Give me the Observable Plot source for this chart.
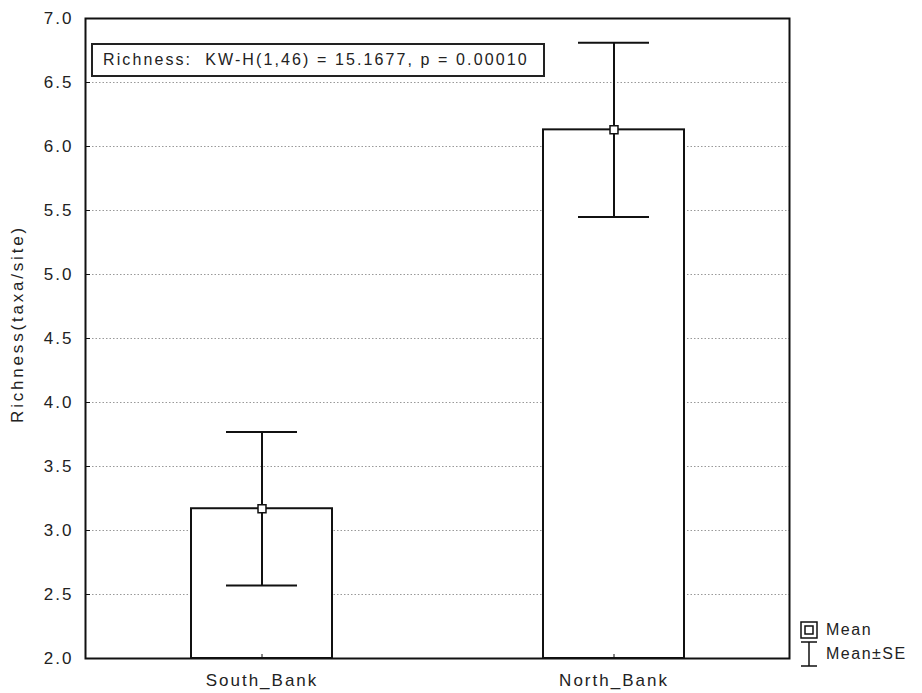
<!DOCTYPE html>
<html>
<head>
<meta charset="utf-8">
<script src="https://cdn.jsdelivr.net/npm/d3@7"></script>
<script src="https://cdn.jsdelivr.net/npm/@observablehq/plot@0.6"></script>
<style>
  html, body { margin: 0; padding: 0; background: #fff; }
  #wrap { position: relative; width: 922px; height: 693px; }
  #wrap svg text { letter-spacing: 2px; }
  #note {
    position: absolute; left: 91px; top: 43px; width: 440px; height: 30px;
    border: 2px solid #222; background: #fff;
    font: 16px "Liberation Sans", Arial, sans-serif; letter-spacing: 2.1px; color: #222;
    line-height: 30px; padding-left: 10px; box-sizing: content-box; white-space: pre;
  }
  #legend {
    position: absolute; left: 800px; top: 618px;
    font: 16px "Liberation Sans", Arial, sans-serif; letter-spacing: 1.5px; color: #222;
  }
  #legend div { height: 24px; display: flex; align-items: center; }
  #legend svg { margin-right: 8px; }
</style>
</head>
<body>
<div id="wrap"></div>
<script>
const categories = ["South_Bank", "North_Bank"];
const means = [3.17, 6.13];
const seValues = [0.60, 0.68];
const yTicks = [2.0, 2.5, 3.0, 3.5, 4.0, 4.5, 5.0, 5.5, 6.0, 6.5, 7.0];
const yLabel = "Richness(taxa/site)";
const noteText = "Richness:  KW-H(1,46) = 15.1677, p = 0.00010";
const legendLabels = ["Mean", "Mean±SE"];

const data = categories.map((c, i) => ({
  group: c, mean: means[i], lo: means[i] - seValues[i], hi: means[i] + seValues[i]
}));

const chart = Plot.plot({
  width: 922, height: 693,
  marginLeft: 85, marginRight: 133, marginTop: 18, marginBottom: 35,
  style: { fontFamily: "'Liberation Sans', Arial, sans-serif", fontSize: "17px", color: "#222", background: "#fff" },
  x: { domain: categories, paddingInner: 0.6, paddingOuter: 0.3, label: null },
  y: { domain: [2, 7], label: null },
  marks: [
    Plot.gridY(yTicks.filter(t => t > 2 && t < 7), { stroke: "#999", strokeOpacity: 1, strokeDasharray: "1.5,2" }),
    Plot.barY(data, { x: "group", y1: 2, y2: "mean", fill: "white", stroke: "#111", strokeWidth: 2 }),
    Plot.ruleX(data, { x: "group", y1: "lo", y2: "hi", stroke: "#111", strokeWidth: 2 }),
    Plot.tickY(data, { x: "group", y: "hi", stroke: "#111", strokeWidth: 2, insetLeft: 35, insetRight: 35 }),
    Plot.tickY(data, { x: "group", y: "lo", stroke: "#111", strokeWidth: 2, insetLeft: 35, insetRight: 35 }),
    Plot.dot(data, { x: "group", y: "mean", symbol: "square", r: 4.5, fill: "white", stroke: "#111", strokeWidth: 1.5 }),
    Plot.axisY(yTicks, { tickSize: 0, tickPadding: 12, tickFormat: d3.format(".1f"), label: null, fill: "#222" }),
    Plot.axisY(yTicks, { tickSize: -5, tickFormat: () => "", label: null, stroke: "#111" }),
    Plot.axisX({ tickSize: 0, tickPadding: 15, label: null, fill: "#222" }),
    Plot.axisX({ tickSize: -4, tickFormat: () => "", label: null, stroke: "#111" }),
    Plot.frame({ stroke: "#111", strokeWidth: 2 })
  ]
});
const wrap = document.getElementById("wrap");
wrap.appendChild(chart);

// y-axis title (rotated), placed beside the axis
const svg = d3.select(chart.tagName.toLowerCase() === "svg" ? chart : chart.querySelector("svg"));
svg.append("text")
  .attr("transform", "translate(23,324) rotate(-90)")
  .attr("text-anchor", "middle")
  .attr("fill", "#222")
  .style("font-size", "17px")
  .style("letter-spacing", "2.8px")
  .text(yLabel);

const note = document.createElement("div");
note.id = "note";
note.textContent = noteText;
wrap.appendChild(note);

const legend = document.createElement("div");
legend.id = "legend";
legend.innerHTML =
  `<div><svg width="18" height="18"><rect x="1" y="1" width="16" height="16" fill="none" stroke="#111" stroke-width="1.5"/><rect x="5" y="5" width="8" height="8" fill="none" stroke="#111" stroke-width="1.5"/></svg><span>${legendLabels[0]}</span></div>` +
  `<div><svg width="18" height="26"><path d="M1,1H17M9,1V25M1,25H17" fill="none" stroke="#111" stroke-width="1.5"/></svg><span>${legendLabels[1]}</span></div>`;
wrap.appendChild(legend);
</script>
</body>
</html>
